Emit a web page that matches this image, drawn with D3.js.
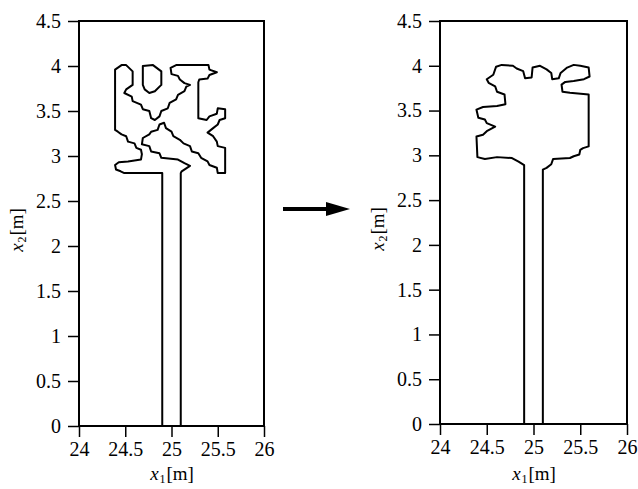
<!DOCTYPE html>
<html>
<head>
<meta charset="utf-8">
<script src="https://cdn.jsdelivr.net/npm/d3@7"></script>
<style>
  body { margin: 0; background: #fff; }
  svg { display: block; }
</style>
</head>
<body>
<div id="chart"></div>
<script>
// tick values shared by both panels
const X_TICKS = [24, 24.5, 25, 25.5, 26];
const Y_TICKS = [0, 0.5, 1, 1.5, 2, 2.5, 3, 3.5, 4, 4.5];

// before: outer contour of the domain [x1, x2]
const beforeOutline = [
  [24.9, 0], [24.9, 2.81],
  [24.49, 2.81], [24.45, 2.83], [24.40, 2.85], [24.39, 2.90], [24.43, 2.93], [24.53, 2.94],
  [24.67, 2.96], [24.68, 3.02], [24.67, 3.07], [24.62, 3.09], [24.60, 3.14], [24.53, 3.16],
  [24.51, 3.22], [24.46, 3.24], [24.42, 3.27], [24.39, 3.29],
  [24.39, 3.96], [24.46, 4.01], [24.51, 4.01], [24.58, 3.94], [24.58, 3.79], [24.51, 3.74],
  [24.49, 3.70], [24.57, 3.66], [24.58, 3.61], [24.67, 3.57], [24.69, 3.52], [24.76, 3.50],
  [24.78, 3.42], [24.82, 3.40],
  [24.87, 3.44], [24.89, 3.50], [24.96, 3.53], [24.98, 3.59], [25.05, 3.63], [25.07, 3.68],
  [25.14, 3.72], [25.16, 3.77], [25.2, 3.79], [25.14, 3.81], [25.09, 3.85], [25.07, 3.89],
  [25.0, 3.91], [24.99, 3.98], [25.05, 4.01], [25.40, 4.01], [25.41, 3.96], [25.49, 3.93],
  [25.41, 3.90], [25.39, 3.86], [25.30, 3.85], [25.29, 3.82], [25.29, 3.42], [25.38, 3.40],
  [25.41, 3.44], [25.49, 3.47], [25.5, 3.53], [25.58, 3.52], [25.58, 3.42], [25.52, 3.40],
  [25.5, 3.35], [25.45, 3.31], [25.39, 3.26], [25.45, 3.22], [25.49, 3.16], [25.5, 3.11],
  [25.58, 3.09], [25.58, 2.81], [25.5, 2.81], [25.49, 2.87], [25.41, 2.90], [25.39, 2.94],
  [25.32, 2.98], [25.29, 3.03], [25.22, 3.05], [25.2, 3.11], [25.13, 3.14], [25.09, 3.18],
  [25.02, 3.22], [25.0, 3.27], [24.94, 3.31], [24.92, 3.37], [24.87, 3.35], [24.85, 3.29],
  [24.78, 3.27], [24.76, 3.24], [24.69, 3.20], [24.68, 3.13], [24.76, 3.11], [24.78, 3.05],
  [24.87, 3.03], [24.89, 2.98], [25.07, 2.96], [25.14, 2.92], [25.2, 2.89], [25.11, 2.83],
  [25.1, 2.81], [25.1, 0]
];

// before: small island near the top
const beforeIsland = [
  [24.69, 4.0], [24.8, 4.01], [24.89, 3.94], [24.89, 3.79], [24.82, 3.72],
  [24.76, 3.70], [24.71, 3.74], [24.69, 3.79]
];

// after: contour of the smoothed domain
const afterOutline = [
  [24.9, 0], [24.9, 2.89], [24.84, 2.93], [24.77, 2.97], [24.61, 2.98], [24.48, 2.96],
  [24.40, 2.98], [24.39, 3.21], [24.46, 3.23], [24.50, 3.27], [24.59, 3.32], [24.50, 3.36],
  [24.48, 3.40], [24.41, 3.42], [24.39, 3.51], [24.46, 3.54], [24.61, 3.55], [24.70, 3.57],
  [24.69, 3.68], [24.61, 3.71], [24.59, 3.77], [24.52, 3.81], [24.50, 3.85], [24.57, 3.90],
  [24.60, 3.99], [24.66, 4.01], [24.78, 4.0], [24.82, 3.97], [24.89, 3.94], [24.91, 3.86],
  [24.98, 3.87], [24.99, 3.98], [25.07, 4.0], [25.14, 3.96], [25.19, 3.92], [25.2, 3.85],
  [25.27, 3.86], [25.29, 3.92], [25.36, 3.98], [25.43, 4.01], [25.5, 4.0], [25.59, 3.98],
  [25.6, 3.88], [25.54, 3.85], [25.43, 3.83], [25.34, 3.82], [25.3, 3.79], [25.31, 3.71],
  [25.39, 3.70], [25.59, 3.68], [25.59, 3.10], [25.53, 3.08], [25.5, 3.06], [25.49, 3.01],
  [25.43, 2.99], [25.39, 2.97], [25.21, 2.96], [25.19, 2.90], [25.14, 2.86], [25.1, 2.84],
  [25.1, 0]
];

const W = 638, H = 489;
const SERIF = "Times New Roman, Liberation Serif, serif";

const svg = d3.select("#chart")
  .append("svg")
    .attr("width", W)
    .attr("height", H)
    .style("font-family", SERIF);

// style an axis group: serif labels, black ticks, no domain path
function styleAxis(sel) {
  sel.attr("font-family", SERIF).attr("font-size", 20);
  sel.select(".domain").remove();
  sel.selectAll(".tick line").attr("stroke", "#000").attr("stroke-width", 1.5);
  sel.selectAll(".tick text")
    .attr("fill", "#000")
    .attr("font-size", 20)
    .attr("font-family", SERIF);
}

// label like x1[m]: italic x, small subscript digit, then [m]
function subLabel(g, idx, transform) {
  const t = g.append("g").attr("transform", transform);
  t.append("text").attr("x", -18).attr("y", 0)
    .attr("font-size", 19).attr("font-style", "italic").attr("fill", "#000")
    .attr("text-anchor", "middle").text("x");
  t.append("text").attr("x", -10).attr("y", 3)
    .attr("font-size", 12).attr("fill", "#000")
    .attr("text-anchor", "middle").text(idx);
  t.append("text").attr("x", -6).attr("y", 0)
    .attr("font-size", 19).attr("fill", "#000")
    .attr("text-anchor", "start").text("[m]");
}

// Draw one framed panel with axes and closed contours
function panel(box, contours) {
  const x = d3.scaleLinear().domain([24, 26]).range([box.left, box.right]);
  const y = d3.scaleLinear().domain([0, 4.5]).range([box.bottom, box.top]);

  const g = svg.append("g");

  g.append("g")
      .attr("transform", "translate(0," + box.bottom + ")")
      .call(d3.axisBottom(x).tickValues(X_TICKS).tickSize(11).tickSizeOuter(0).tickPadding(5).tickFormat(d3.format("")))
      .call(styleAxis);

  g.append("g")
      .attr("transform", "translate(" + box.left + ",0)")
      .call(d3.axisLeft(y).tickValues(Y_TICKS).tickSize(11).tickSizeOuter(0).tickPadding(7).tickFormat(d3.format("")))
      .call(styleAxis);

  // frame
  g.append("rect")
    .attr("x", box.left)
    .attr("y", box.top)
    .attr("width", box.right - box.left)
    .attr("height", box.bottom - box.top)
    .attr("fill", "none")
    .attr("stroke", "#000")
    .attr("stroke-width", 2);

  const line = d3.line()
    .x(d => x(d[0]))
    .y(d => y(d[1]))
    .curve(d3.curveLinearClosed);

  contours.forEach(c => {
    g.append("path")
      .attr("d", line(c))
      .attr("fill", "none")
      .attr("stroke", "#000")
      .attr("stroke-width", 2)
      .attr("stroke-linejoin", "round");
  });

  subLabel(g, "1", "translate(" + ((box.left + box.right) / 2 + 1) + ",480)");
  subLabel(g, "2", "translate(" + (box.left - 56) + "," + ((box.top + box.bottom) / 2 + 6) + ") rotate(-90)");
}

panel({ left: 79, right: 264, top: 21, bottom: 426 }, [beforeOutline, beforeIsland]);
panel({ left: 440, right: 627, top: 21, bottom: 424 }, [afterOutline]);

// arrow between the panels
svg.append("line")
  .attr("x1", 283).attr("y1", 209)
  .attr("x2", 330).attr("y2", 209)
  .attr("stroke", "#000")
  .attr("stroke-width", 4);
svg.append("path")
  .attr("d", "M326,202 L350,209 L326,216 Z")
  .attr("fill", "#000");
</script>
</body>
</html>
